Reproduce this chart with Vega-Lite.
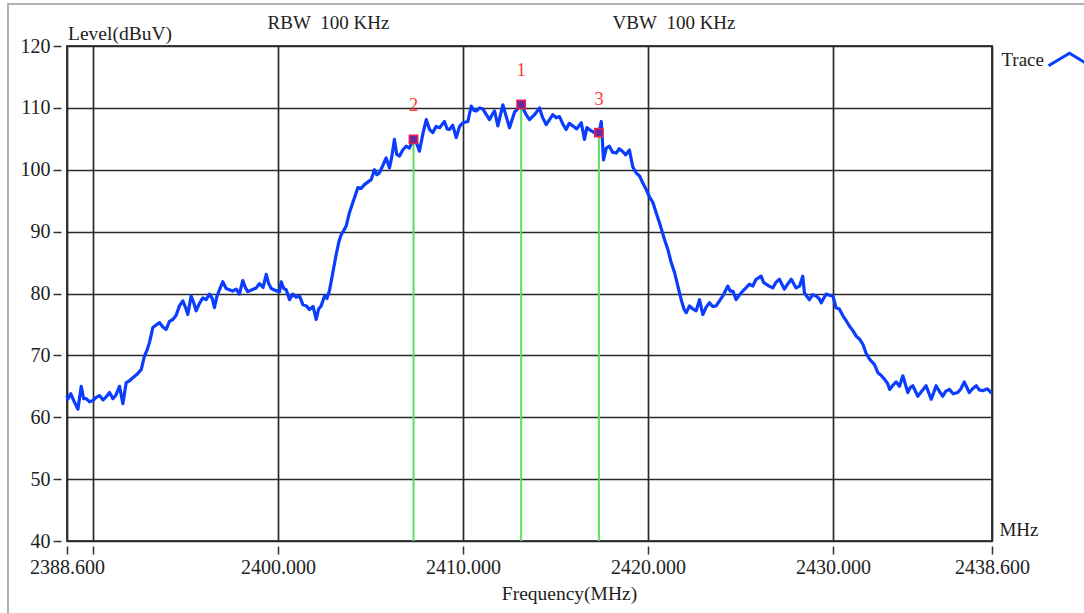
{
  "$schema": "https://vega.github.io/schema/vega-lite/v6.json",
  "width": 925,
  "height": 495,
  "autosize": "none",
  "padding": {"left": 67, "top": 46, "right": 92, "bottom": 72},
  "background": "white",
  "config": {
    "font": "Liberation Serif",
    "view": {"stroke": "#444", "strokeWidth": 2},
    "axis": {
      "labelFont": "Liberation Serif", "labelFontSize": 20, "labelColor": "#222",
      "gridColor": "#2a2a2a", "gridWidth": 1.7, "gridOpacity": 1,
      "tickColor": "#333", "tickWidth": 1.5, "domain": false,
      "titleFont": "Liberation Serif", "titleFontSize": 19.5, "titleFontWeight": "normal", "titleColor": "#222"
    },
    "legend": {"labelFont": "Liberation Serif", "labelFontSize": 19, "labelColor": "#222"}
  },
  "datasets": {
    "markers": [
      {"id": "1", "f": 2413.15, "level": 110.55},
      {"id": "2", "f": 2407.33, "level": 104.9},
      {"id": "3", "f": 2417.35, "level": 106.0}
    ],
    "trace": [
      {"f":2388.60,"level":63.5},{"f":2388.64,"level":62.9},{"f":2388.80,"level":63.8},{"f":2389.01,"level":62.4},
      {"f":2389.19,"level":61.3},{"f":2389.37,"level":65.0},{"f":2389.50,"level":63.0},{"f":2389.64,"level":63.0},
      {"f":2389.82,"level":62.5},{"f":2390.00,"level":62.7},{"f":2390.18,"level":63.2},{"f":2390.36,"level":63.5},
      {"f":2390.55,"level":62.8},{"f":2390.72,"level":63.3},{"f":2390.90,"level":64.0},{"f":2391.08,"level":63.0},
      {"f":2391.25,"level":63.6},{"f":2391.44,"level":65.0},{"f":2391.62,"level":62.2},{"f":2391.80,"level":65.6},
      {"f":2391.98,"level":65.9},{"f":2392.16,"level":66.4},{"f":2392.40,"level":67.0},{"f":2392.61,"level":67.7},
      {"f":2392.79,"level":69.9},{"f":2392.92,"level":70.8},{"f":2393.06,"level":72.1},{"f":2393.24,"level":74.5},
      {"f":2393.42,"level":74.9},{"f":2393.60,"level":75.3},{"f":2393.78,"level":74.6},{"f":2393.96,"level":74.2},
      {"f":2394.14,"level":75.5},{"f":2394.32,"level":75.8},{"f":2394.50,"level":76.5},{"f":2394.68,"level":78.0},
      {"f":2394.86,"level":78.8},{"f":2395.00,"level":77.8},{"f":2395.13,"level":76.6},{"f":2395.31,"level":79.6},
      {"f":2395.45,"level":78.5},{"f":2395.58,"level":77.2},{"f":2395.76,"level":78.4},{"f":2395.94,"level":79.3},
      {"f":2396.12,"level":79.0},{"f":2396.30,"level":79.9},{"f":2396.45,"level":79.2},{"f":2396.57,"level":77.7},
      {"f":2396.70,"level":79.5},{"f":2396.84,"level":80.6},{"f":2397.02,"level":81.9},{"f":2397.20,"level":80.8},
      {"f":2397.38,"level":80.6},{"f":2397.55,"level":80.4},{"f":2397.75,"level":80.7},{"f":2397.92,"level":79.9},
      {"f":2398.10,"level":82.1},{"f":2398.25,"level":80.9},{"f":2398.37,"level":80.3},{"f":2398.60,"level":80.6},
      {"f":2398.83,"level":80.9},{"f":2399.00,"level":81.6},{"f":2399.20,"level":81.0},{"f":2399.37,"level":83.1},
      {"f":2399.50,"level":81.6},{"f":2399.64,"level":80.8},{"f":2399.85,"level":80.5},{"f":2400.09,"level":80.3},
      {"f":2400.18,"level":81.9},{"f":2400.32,"level":80.8},{"f":2400.45,"level":80.6},{"f":2400.63,"level":79.0},
      {"f":2400.80,"level":79.9},{"f":2400.99,"level":79.4},{"f":2401.17,"level":79.6},{"f":2401.35,"level":78.2},
      {"f":2401.53,"level":78.0},{"f":2401.71,"level":77.4},{"f":2401.90,"level":77.9},{"f":2402.07,"level":75.8},
      {"f":2402.20,"level":77.5},{"f":2402.34,"level":78.0},{"f":2402.52,"level":79.6},{"f":2402.65,"level":79.2},
      {"f":2402.79,"level":80.5},{"f":2402.97,"level":83.4},{"f":2403.15,"level":86.3},{"f":2403.30,"level":88.4},
      {"f":2403.42,"level":89.5},{"f":2403.56,"level":90.2},{"f":2403.69,"level":90.9},{"f":2403.87,"level":93.1},
      {"f":2404.05,"level":94.7},{"f":2404.20,"level":96.0},{"f":2404.32,"level":97.1},{"f":2404.50,"level":97.0},
      {"f":2404.68,"level":97.6},{"f":2404.86,"level":98.0},{"f":2405.04,"level":98.4},{"f":2405.22,"level":100.0},
      {"f":2405.35,"level":99.2},{"f":2405.49,"level":99.5},{"f":2405.66,"level":100.6},{"f":2405.85,"level":101.9},
      {"f":2406.03,"level":100.3},{"f":2406.15,"level":102.0},{"f":2406.30,"level":104.9},{"f":2406.42,"level":102.5},
      {"f":2406.57,"level":102.2},{"f":2406.75,"level":103.2},{"f":2406.93,"level":103.8},{"f":2407.10,"level":103.5},
      {"f":2407.33,"level":104.9},{"f":2407.50,"level":104.3},{"f":2407.65,"level":103.0},{"f":2407.85,"level":106.0},
      {"f":2408.02,"level":108.1},{"f":2408.20,"level":106.5},{"f":2408.37,"level":106.0},{"f":2408.55,"level":107.0},
      {"f":2408.74,"level":106.8},{"f":2409.00,"level":107.8},{"f":2409.15,"level":106.6},{"f":2409.27,"level":106.5},
      {"f":2409.45,"level":107.2},{"f":2409.64,"level":105.2},{"f":2409.82,"level":107.0},{"f":2410.00,"level":107.6},
      {"f":2410.27,"level":107.8},{"f":2410.45,"level":110.3},{"f":2410.60,"level":109.6},{"f":2410.72,"level":109.5},
      {"f":2410.90,"level":110.0},{"f":2411.08,"level":109.8},{"f":2411.25,"level":109.0},{"f":2411.44,"level":108.1},
      {"f":2411.60,"level":109.0},{"f":2411.71,"level":109.5},{"f":2411.89,"level":107.1},{"f":2412.16,"level":110.5},
      {"f":2412.35,"level":108.5},{"f":2412.52,"level":106.8},{"f":2412.79,"level":109.3},{"f":2412.95,"level":109.8},
      {"f":2413.15,"level":110.55},{"f":2413.40,"level":109.0},{"f":2413.60,"level":108.1},{"f":2413.87,"level":108.9},
      {"f":2414.14,"level":110.0},{"f":2414.30,"level":108.5},{"f":2414.50,"level":107.3},{"f":2414.70,"level":108.2},
      {"f":2414.86,"level":108.9},{"f":2415.05,"level":108.4},{"f":2415.22,"level":108.6},{"f":2415.40,"level":107.4},
      {"f":2415.58,"level":106.5},{"f":2415.75,"level":107.5},{"f":2415.94,"level":107.1},{"f":2416.15,"level":106.6},
      {"f":2416.40,"level":107.6},{"f":2416.57,"level":104.9},{"f":2416.70,"level":106.8},{"f":2416.84,"level":106.5},
      {"f":2417.10,"level":106.0},{"f":2417.35,"level":106.0},{"f":2417.48,"level":107.8},{"f":2417.60,"level":101.6},
      {"f":2417.75,"level":103.5},{"f":2417.92,"level":103.8},{"f":2418.10,"level":102.8},{"f":2418.29,"level":102.7},
      {"f":2418.45,"level":103.4},{"f":2418.65,"level":102.9},{"f":2418.80,"level":102.4},{"f":2419.00,"level":103.2},
      {"f":2419.18,"level":100.5},{"f":2419.36,"level":99.5},{"f":2419.55,"level":99.0},{"f":2419.73,"level":97.8},
      {"f":2419.91,"level":96.8},{"f":2420.09,"level":95.6},{"f":2420.27,"level":94.7},{"f":2420.45,"level":93.0},
      {"f":2420.63,"level":91.4},{"f":2420.77,"level":90.0},{"f":2420.90,"level":88.7},{"f":2421.08,"level":87.1},
      {"f":2421.26,"level":85.0},{"f":2421.44,"level":83.4},{"f":2421.62,"level":81.2},{"f":2421.80,"level":79.0},
      {"f":2421.95,"level":77.5},{"f":2422.07,"level":76.9},{"f":2422.25,"level":78.0},{"f":2422.43,"level":77.5},
      {"f":2422.61,"level":77.2},{"f":2422.79,"level":79.0},{"f":2422.97,"level":76.6},{"f":2423.15,"level":77.8},
      {"f":2423.33,"level":78.5},{"f":2423.50,"level":77.9},{"f":2423.69,"level":78.0},{"f":2423.87,"level":78.8},
      {"f":2424.05,"level":79.6},{"f":2424.32,"level":81.2},{"f":2424.45,"level":80.4},{"f":2424.59,"level":80.4},
      {"f":2424.77,"level":79.0},{"f":2424.95,"level":79.8},{"f":2425.13,"level":80.4},{"f":2425.30,"level":80.9},
      {"f":2425.49,"level":81.5},{"f":2425.67,"level":81.2},{"f":2425.85,"level":82.3},{"f":2426.12,"level":82.8},
      {"f":2426.25,"level":81.8},{"f":2426.39,"level":81.5},{"f":2426.55,"level":81.2},{"f":2426.75,"level":80.9},
      {"f":2426.92,"level":81.8},{"f":2427.11,"level":82.3},{"f":2427.38,"level":80.7},{"f":2427.55,"level":81.5},
      {"f":2427.75,"level":82.3},{"f":2428.01,"level":80.9},{"f":2428.20,"level":81.2},{"f":2428.37,"level":82.8},
      {"f":2428.46,"level":80.1},{"f":2428.60,"level":79.5},{"f":2428.73,"level":79.0},{"f":2428.90,"level":79.8},
      {"f":2429.09,"level":79.6},{"f":2429.25,"level":79.2},{"f":2429.37,"level":78.5},{"f":2429.63,"level":79.9},
      {"f":2429.82,"level":79.7},{"f":2430.00,"level":79.6},{"f":2430.17,"level":77.7},{"f":2430.35,"level":77.5},
      {"f":2430.54,"level":76.4},{"f":2430.72,"level":75.6},{"f":2430.90,"level":74.7},{"f":2431.08,"level":74.0},
      {"f":2431.26,"level":73.1},{"f":2431.45,"level":72.6},{"f":2431.62,"level":71.8},{"f":2431.80,"level":70.3},
      {"f":2431.98,"level":69.4},{"f":2432.25,"level":68.5},{"f":2432.43,"level":67.2},{"f":2432.60,"level":66.8},
      {"f":2432.80,"level":66.1},{"f":2432.95,"level":65.5},{"f":2433.07,"level":64.5},{"f":2433.25,"level":65.2},
      {"f":2433.42,"level":65.7},{"f":2433.60,"level":65.0},{"f":2433.78,"level":66.7},{"f":2434.05,"level":64.0},
      {"f":2434.18,"level":64.8},{"f":2434.32,"level":65.1},{"f":2434.59,"level":63.4},{"f":2434.80,"level":64.2},
      {"f":2435.04,"level":65.1},{"f":2435.31,"level":62.9},{"f":2435.45,"level":64.0},{"f":2435.58,"level":65.1},
      {"f":2435.75,"level":64.2},{"f":2435.94,"level":63.4},{"f":2436.10,"level":64.2},{"f":2436.30,"level":64.5},
      {"f":2436.50,"level":63.8},{"f":2436.75,"level":64.0},{"f":2436.92,"level":64.6},{"f":2437.10,"level":65.7},
      {"f":2437.37,"level":64.0},{"f":2437.55,"level":64.6},{"f":2437.75,"level":65.1},{"f":2437.92,"level":64.4},
      {"f":2438.10,"level":64.3},{"f":2438.35,"level":64.6},{"f":2438.55,"level":64.0},{"f":2438.60,"level":63.9}
    ]
  },
  "layer": [
    {
      "data": {"name": "trace"},
      "mark": {"type": "line", "strokeWidth": 3.2, "strokeJoin": "round"},
      "encoding": {
        "x": {
          "field": "f", "type": "quantitative",
          "scale": {"domain": [2388.6, 2438.6], "nice": false, "zero": false},
          "axis": {
            "values": [2388.6, 2390, 2400, 2410, 2420, 2430, 2438.6],
            "format": ".3f",
            "labelExpr": "datum.value == 2390 ? '' : datum.label",
            "labelFlush": false, "labelOverlap": false, "labelBound": false,
            "offset": 5, "tickSize": 8, "labelPadding": 3,
            "title": "Frequency(MHz)",
            "titleX": 502, "titleY": 53, "titleAlign": "center", "titleBaseline": "alphabetic", "titlePadding": 0
          }
        },
        "y": {
          "field": "level", "type": "quantitative",
          "scale": {"domain": [40, 120], "nice": false, "zero": false},
          "axis": {
            "values": [40, 50, 60, 70, 80, 90, 100, 110, 120],
            "labelFlush": false, "labelOverlap": false, "labelBound": false,
            "offset": 6, "tickSize": 8, "labelPadding": 3,
            "title": "Level(dBuV)",
            "titleAngle": 0, "titleX": 6.5, "titleY": -6.5, "titleAlign": "left", "titleBaseline": "alphabetic"
          }
        },
        "color": {
          "datum": "Trace",
          "scale": {"range": ["#0b3dff"]},
          "legend": {
            "orient": "none", "legendX": 980, "legendY": -9, "title": null, "padding": 0,
            "symbolType": "M-1,0.3L0,-0.3L1,0.3", "symbolSize": 1764, "symbolStrokeWidth": 3,
            "labelAlign": "right", "labelOffset": -48
          }
        }
      }
    },
    {
      "data": {"values": [{}]},
      "mark": {"type": "rect", "fill": "transparent", "stroke": "#999", "strokeWidth": 1.5, "clip": false},
      "encoding": {
        "x": {"datum": 2385.41, "type": "quantitative"},
        "x2": {"datum": 2450},
        "y": {"datum": 126.8, "type": "quantitative"},
        "y2": {"datum": 0}
      }
    },
    {
      "data": {"name": "markers"},
      "mark": {"type": "rule", "color": "#5ddc5d", "strokeWidth": 2},
      "encoding": {
        "x": {"field": "f", "type": "quantitative"},
        "y": {"field": "level", "type": "quantitative"},
        "y2": {"datum": 40}
      }
    },
    {
      "data": {"name": "markers"},
      "mark": {"type": "point", "shape": "square", "size": 70, "filled": true, "fill": "#6a2a9a", "stroke": "#ee2050", "strokeWidth": 1.5, "opacity": 1},
      "encoding": {
        "x": {"field": "f", "type": "quantitative"},
        "y": {"field": "level", "type": "quantitative"}
      }
    },
    {
      "data": {"name": "markers"},
      "mark": {"type": "text", "color": "#ff3b3b", "fontSize": 19, "dy": -28, "baseline": "alphabetic", "align": "center"},
      "encoding": {
        "x": {"field": "f", "type": "quantitative"},
        "y": {"field": "level", "type": "quantitative"},
        "text": {"field": "id"}
      }
    },
    {
      "data": {"values": [{}]},
      "mark": {"type": "text", "color": "#222", "fontSize": 19, "align": "left", "baseline": "alphabetic", "clip": false, "text": "RBW\u00a0 100 KHz"},
      "encoding": {
        "x": {"datum": 2399.44, "type": "quantitative"},
        "y": {"datum": 122.67, "type": "quantitative"}
      }
    },
    {
      "data": {"values": [{}]},
      "mark": {"type": "text", "color": "#222", "fontSize": 19, "align": "left", "baseline": "alphabetic", "clip": false, "text": "VBW\u00a0 100 KHz"},
      "encoding": {
        "x": {"datum": 2418.09, "type": "quantitative"},
        "y": {"datum": 122.67, "type": "quantitative"}
      }
    },
    {
      "data": {"values": [{}]},
      "mark": {"type": "text", "color": "#222", "fontSize": 19, "align": "left", "baseline": "alphabetic", "clip": false, "text": "MHz"},
      "encoding": {
        "x": {"datum": 2439.0, "type": "quantitative"},
        "y": {"datum": 40.76, "type": "quantitative"}
      }
    }
  ]
}
